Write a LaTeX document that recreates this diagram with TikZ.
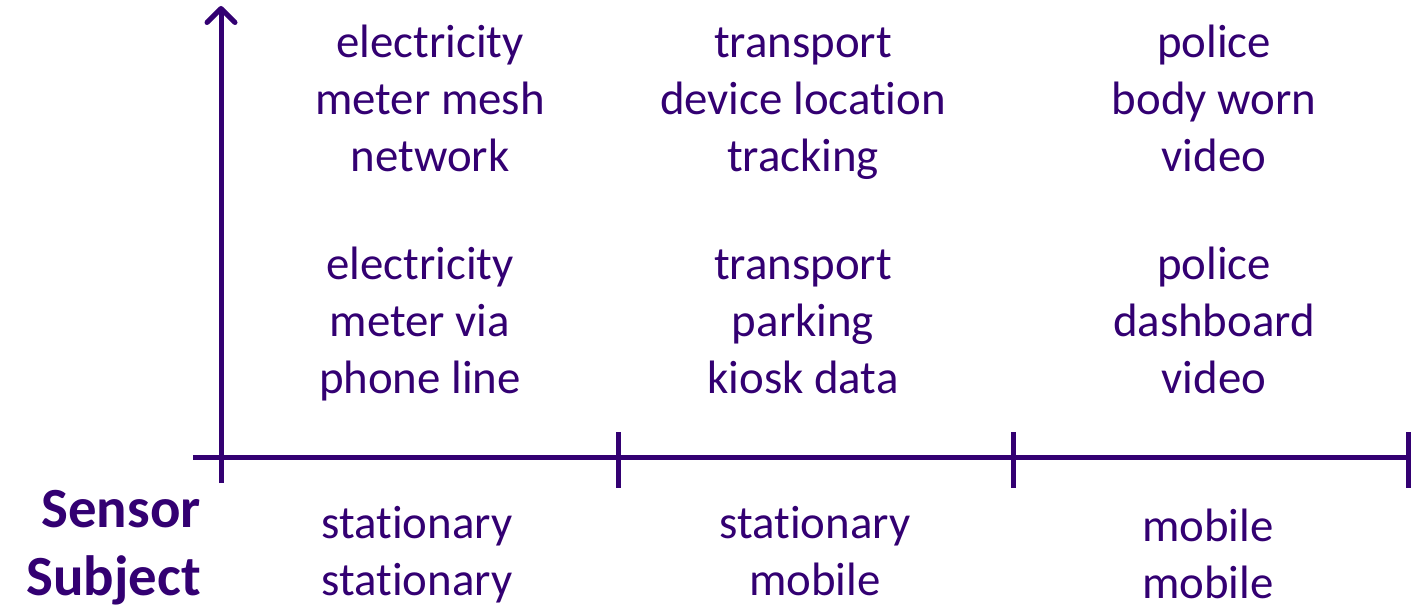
\documentclass[tikz,border=0pt]{standalone}
\usepackage{fontspec}
\setmainfont{Carlito}[Ligatures=NoCommon]
\usepackage{xcolor}
\usetikzlibrary{arrows.meta,calc}
\definecolor{purp}{RGB}{51,0,114}
\newcommand{\rowln}{\strut}
\tikzset{
	cell/.style={text=purp, align=center, inner sep=0pt,
			font=\fontsize{47}{57}\selectfont},
	axislbl/.style={text=purp, align=right, inner sep=0pt,
			font=\fontsize{57}{68}\selectfont\bfseries}
}

\begin{document}
\begin{tikzpicture}[x=1bp, y=-1bp, line cap=butt, line join=round]
    \useasboundingbox (0,0) rectangle (1415,616);

    \coordinate (O)  at (221, 457);
    \coordinate (Y)  at (221, 6);
    \coordinate (L)  at (193, 457);
    \coordinate (R)  at (1410, 457);
    \coordinate (T0) at (221, 483);
    \coordinate (T1) at (618, 432);
    \coordinate (T2) at (1013, 432);
    \coordinate (T3) at (1408, 432);

    \tikzset{ax/.style={draw=purp, line width=5bp}}

    \draw[ax] (L) -- (R);
    \draw[ax, -{Straight Barb[length=14bp, width=28bp, round]}] (T0) -- (Y);
    \draw[ax] (T1) -- ++(0, 56);
    \draw[ax] (T2) -- ++(0, 56);
    \draw[ax] (T3) -- ++(0, 56);

    % top row
    \node[cell] (meshnet)  at (430, 103) {\rowln electricity\\\rowln meter mesh\\\rowln network};
    \node[cell] (devloc)   at (803, 103) {\rowln transport\\\rowln device location\\\rowln tracking};
    \node[cell] (bodycam)  at (1214, 103) {\rowln police\\\rowln body worn\\\rowln video};

    % middle row
    \node[cell] (phoneln)  at (420, 325) {\rowln electricity\\\rowln meter via\\\rowln phone line};
    \node[cell] (kiosk)    at (803, 325) {\rowln transport\\\rowln parking\\\rowln kiosk data};
    \node[cell] (dashcam)  at (1214, 325) {\rowln police\\\rowln dashboard\\\rowln video};

    % axis labels
    \node[cell] (statstat) at (417, 556) {\rowln stationary\\\rowln stationary};
    \node[cell] (statmob)  at (815, 556) {\rowln stationary\\\rowln mobile};
    \node[cell] (mobmob)   at (1208, 559) {\rowln mobile\\\rowln mobile};

    \node[axislbl, anchor=east] (sensubj) at (201, 548) {\rowln Sensor\\\rowln Subject};
\end{tikzpicture}
\end{document}
